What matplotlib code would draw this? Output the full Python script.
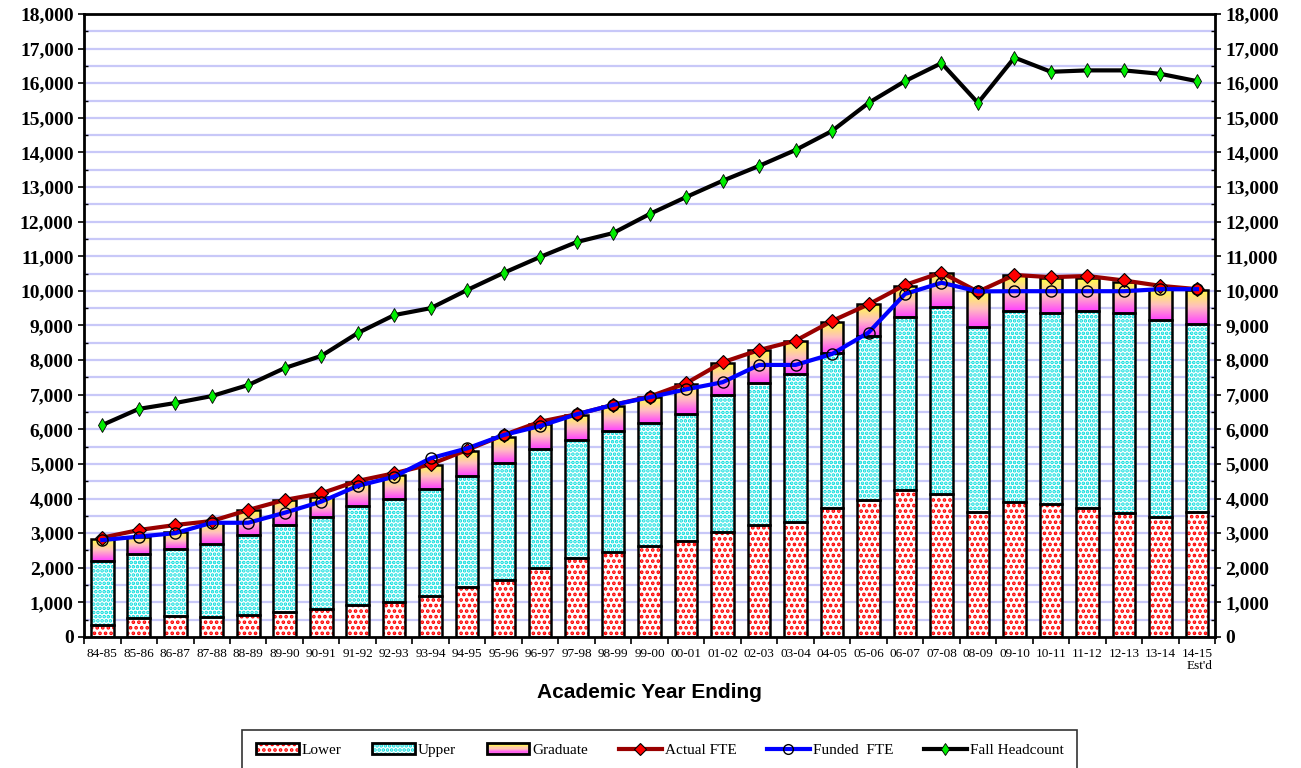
import matplotlib
matplotlib.use("Agg")
import matplotlib.pyplot as plt
import numpy as np
from matplotlib.patches import Rectangle
from matplotlib.lines import Line2D
from matplotlib.legend_handler import HandlerBase
from matplotlib.ticker import MultipleLocator, FuncFormatter

plt.rcParams['hatch.linewidth'] = 1.8

# academic years
years = ['84-85', '85-86', '86-87', '87-88', '88-89', '89-90', '90-91', '91-92', '92-93', '93-94',
         '94-95', '95-96', '96-97', '97-98', '98-99', '99-00', '00-01', '01-02', '02-03', '03-04',
         '04-05', '05-06', '06-07', '07-08', '08-09', '09-10', '10-11', '11-12', '12-13', '13-14',
         "14-15\nEst'd"]

# stacked bar values (FTE)
lower = [350, 540, 615, 580, 636, 713, 800, 925, 1020, 1195,
         1435, 1650, 2005, 2270, 2465, 2640, 2785, 3045, 3225, 3330,
         3735, 3955, 4240, 4130, 3610, 3910, 3835, 3720, 3575, 3480, 3600]
upper_top = [2205, 2400, 2550, 2690, 2960, 3235, 3480, 3785, 4000, 4275,
             4650, 5035, 5420, 5690, 5950, 6195, 6435, 6985, 7330, 7590,
             8195, 8695, 9255, 9545, 8950, 9420, 9355, 9420, 9355, 9160, 9045]
grad_top = [2840, 2900, 3040, 3330, 3660, 3960, 4055, 4490, 4680, 4970,
            5375, 5790, 6155, 6415, 6685, 6945, 7310, 7910, 8290, 8560,
            9110, 9610, 10150, 10530, 10005, 10460, 10365, 10365, 10270, 10050, 10030]
upper = [u - l for u, l in zip(upper_top, lower)]
graduate = [g - u for g, u in zip(grad_top, upper_top)]

# line series
actual_fte = [2870, 3090, 3235, 3350, 3670, 3960, 4150, 4510, 4730, 4990,
              5405, 5835, 6220, 6435, 6705, 6945, 7330, 7935, 8290, 8560,
              9130, 9610, 10170, 10530, 9975, 10460, 10395, 10430, 10300, 10145, 10050]
funded_fte = [2800, 2900, 3000, 3300, 3300, 3590, 3910, 4365, 4630, 5165,
              5450, 5835, 6095, 6435, 6705, 6925, 7155, 7360, 7860, 7860,
              8175, 8795, 9910, 10235, 9985, 9990, 9990, 9990, 9990, 10050, 10050]
headcount = [6125, 6590, 6760, 6960, 7280, 7770, 8120, 8780, 9300, 9500,
             10025, 10520, 10980, 11410, 11670, 12220, 12710, 13180, 13610, 14070,
             14620, 15430, 16060, 16580, 15430, 16740, 16330, 16370, 16370, 16270, 16060]

x = np.arange(len(years))
w = 0.62

fig = plt.figure(figsize=(13.01, 7.68), dpi=100)
ax = fig.add_axes([0.0646, 0.1706, 0.8694, 0.8112])

# grid lines every 500
for v in range(500, 18000, 500):
    ax.axhline(v, color='#c8c8f8', lw=1.6, zorder=0)

# gradient image for graduate bars (magenta bottom -> yellow top)
bot_c = np.array([1.0, 0.25, 1.0])
mid_c = np.array([1.0, 0.75, 0.75])
top_c = np.array([1.0, 1.0, 0.25])
img = np.zeros((64, 1, 3))
for i, t in enumerate(np.linspace(0, 1, 64)):
    if t < 0.5:
        img[i, 0] = bot_c + (mid_c - bot_c) * (t / 0.5)
    else:
        img[i, 0] = mid_c + (top_c - mid_c) * ((t - 0.5) / 0.5)

ax.bar(x, lower, w, color='white', edgecolor='#ff0000', hatch='...', lw=0, zorder=2)
ax.bar(x, upper, w, bottom=lower, color='white', edgecolor='#00dcdc', hatch='....', lw=0, zorder=2)
gbars = ax.bar(x, graduate, w, bottom=upper_top, color='none', lw=0, zorder=2)
for b in gbars:
    im = ax.imshow(img, extent=(b.get_x(), b.get_x() + b.get_width(), b.get_y(), b.get_y() + b.get_height()),
                   origin='lower', aspect='auto', zorder=2)
    im.set_clip_path(b)
# black outlines
ax.bar(x, lower, w, color='none', edgecolor='black', lw=1.8, zorder=3)
ax.bar(x, upper, w, bottom=lower, color='none', edgecolor='black', lw=1.8, zorder=3)
ax.bar(x, graduate, w, bottom=upper_top, color='none', edgecolor='black', lw=1.8, zorder=3)

ax.plot(x, actual_fte, color='#990000', lw=3, marker='D', ms=7, mfc='red', mec='black', mew=0.8, zorder=4)
ax.plot(x, funded_fte, color='#0000ff', lw=3, marker='o', ms=8, mfc='none', mec='black', mew=1.0, zorder=5)
ax.plot(x, headcount, color='black', lw=3, marker='d', ms=7, mfc='#00ee00', mec='black', mew=0.6, zorder=4)

ax.set_xlim(-0.5, len(x) - 0.5)
ax.set_ylim(0, 18000)

fmt = FuncFormatter(lambda v, p: f'{int(v):,}')
ax.yaxis.set_major_locator(MultipleLocator(1000))
ax.yaxis.set_minor_locator(MultipleLocator(500))
ax.yaxis.set_major_formatter(fmt)
ax.tick_params(axis='y', which='major', direction='out', length=4, width=1.2, labelright=True, right=True)
ax.tick_params(axis='y', which='minor', direction='in', length=3, width=1, right=True)
for lab in ax.get_yticklabels():
    lab.set_fontfamily('Liberation Serif')
    lab.set_fontweight('bold')
    lab.set_fontsize(14)

ax.set_xticks(x)
ax.set_xticklabels(years, fontfamily='Liberation Serif', fontsize=9.5, linespacing=1.0)
ax.set_xticks(np.arange(-0.5, len(x), 1), minor=True)
ax.tick_params(axis='x', which='major', length=0, pad=8)
ax.tick_params(axis='x', which='minor', length=5, width=1.2, direction='out')
lbl = ax.get_xticklabels()[-1]
lbl.set_multialignment('right')

for s in ax.spines.values():
    s.set_linewidth(2)

ax.set_xlabel('Academic Year Ending', fontfamily='Liberation Sans', fontweight='bold', fontsize=15, labelpad=8)


# legend with gradient swatch for graduate
class GradHandler(HandlerBase):
    def create_artists(self, legend, orig, xd, yd, width, height, fontsize, trans):
        arts = []
        n = 8
        for i in range(n):
            c = img[int(i / (n - 1) * 63), 0]
            arts.append(Rectangle((xd, yd + height * i / n), width, height / n, facecolor=c, lw=0, transform=trans))
        arts.append(Rectangle((xd, yd), width, height, facecolor='none', edgecolor='black', lw=2, transform=trans))
        return arts


class HatchHandler(HandlerBase):
    def __init__(self, col, hatch):
        super().__init__()
        self.col = col
        self.hatch = hatch

    def create_artists(self, legend, orig, xd, yd, width, height, fontsize, trans):
        r1 = Rectangle((xd, yd), width, height, facecolor='white', edgecolor=self.col, hatch=self.hatch, lw=0, transform=trans)
        r2 = Rectangle((xd, yd), width, height, facecolor='none', edgecolor='black', lw=2, transform=trans)
        return [r1, r2]


h_low = Rectangle((0, 0), 1, 1)
h_up = Rectangle((0, 0), 1, 1)
h_gr = Rectangle((0, 0), 1, 1)
h_act = Line2D([], [], color='#990000', lw=3, marker='D', ms=6, mfc='red', mec='black', mew=0.8)
h_fun = Line2D([], [], color='#0000ff', lw=3, marker='o', ms=7, mfc='none', mec='black', mew=1.0)
h_hc = Line2D([], [], color='black', lw=3, marker='d', ms=6, mfc='#00ee00', mec='black', mew=0.6)

leg = fig.legend([h_low, h_up, h_gr, h_act, h_fun, h_hc],
                 ['Lower', 'Upper', 'Graduate', 'Actual FTE', 'Funded  FTE', 'Fall Headcount'],
                 handler_map={h_low: HatchHandler('#ff0000', '...'), h_up: HatchHandler('#00dcdc', '....'),
                              h_gr: GradHandler()},
                 loc='upper center', bbox_to_anchor=(0.507, 0.06), ncol=6, frameon=True, fancybox=False,
                 edgecolor='black', borderpad=0.9, handlelength=2.8, handletextpad=0.2, columnspacing=2.0,
                 prop={'family': 'Liberation Serif', 'size': 11})
leg.get_frame().set_linewidth(1.2)

fig.savefig('out.png', dpi=100)
